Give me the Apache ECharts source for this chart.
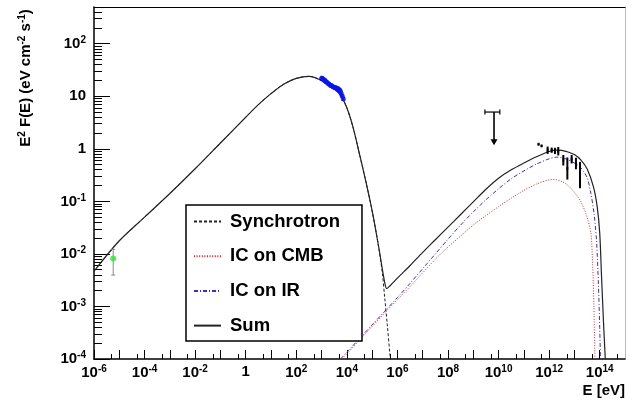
<!DOCTYPE html>
<html>
<head>
<meta charset="utf-8">
<script src="https://cdn.jsdelivr.net/npm/echarts@6/dist/echarts.min.js"></script>
<style>
  html, body { margin: 0; padding: 0; background: #fff; }
  #chart { width: 635px; height: 404px; }
</style>
</head>
<body>
<div id="chart"></div>
<script>
// Spectral energy distribution: E in eV, E^2 F(E) in eV cm^-2 s^-1.
// All curve samples are stored as log10 values.

// Model components
const synLogE = [-6, -5, -4, -3, -2, -1, 0, 0.5, 1, 1.5, 2, 2.5, 3, 3.5, 3.75, 4, 4.25, 4.5, 4.75, 5, 5.25, 5.4, 5.5, 5.6, 5.7, 5.73];
const synLogF = [-2.33, -1.75, -1.30, -0.85, -0.38, 0.11, 0.60, 0.84, 1.05, 1.23, 1.34, 1.38, 1.30, 1.14, 1.02, 0.78, 0.40, -0.10, -0.62, -1.18, -1.85, -2.35, -2.85, -3.35, -3.90, -4.05];

const cmbLogE = [3.8, 4, 4.5, 5, 5.5, 6, 6.5, 7, 7.5, 8, 8.5, 9, 9.5, 10, 10.5, 11, 11.5, 12, 12.2, 12.5, 12.75, 13, 13.25, 13.5, 13.65, 13.72, 13.77, 13.81];
const cmbLogF = [-4.0, -3.9, -3.64, -3.38, -3.12, -2.87, -2.62, -2.36, -2.10, -1.87, -1.66, -1.45, -1.27, -1.10, -0.94, -0.79, -0.67, -0.59, -0.585, -0.62, -0.70, -0.83, -1.0, -1.30, -1.60, -2.2, -3.0, -4.0];

const irLogE = [3.75, 4, 4.5, 5, 5.5, 6, 6.5, 7, 7.5, 8, 8.5, 9, 9.5, 10, 10.5, 11, 11.5, 12, 12.3, 12.6, 13, 13.25, 13.5, 13.65, 13.78, 13.88, 13.95, 14.0, 14.03];
const irLogF = [-4.0, -3.87, -3.61, -3.35, -3.09, -2.83, -2.56, -2.28, -2.0, -1.72, -1.45, -1.20, -0.97, -0.76, -0.57, -0.42, -0.29, -0.19, -0.16, -0.18, -0.27, -0.36, -0.55, -0.85, -1.25, -1.8, -2.6, -3.4, -4.0];

const sumLogE = [-6, -5, -4, -3, -2, -1, 0, 0.5, 1, 1.5, 2, 2.5, 3, 3.5, 3.75, 4, 4.25, 4.5, 4.75, 5, 5.25, 5.4, 5.5, 5.575, 5.7, 6, 6.5, 7, 7.5, 8, 8.5, 9, 9.5, 10, 10.5, 11, 11.5, 12, 12.3, 12.5, 12.75, 13, 13.25, 13.5, 13.75, 13.9, 14, 14.07, 14.15, 14.22];
const sumLogF = [-2.33, -1.75, -1.30, -0.85, -0.38, 0.11, 0.60, 0.84, 1.05, 1.23, 1.34, 1.38, 1.30, 1.14, 1.02, 0.78, 0.40, -0.10, -0.62, -1.18, -1.84, -2.28, -2.55, -2.66, -2.61, -2.46, -2.22, -1.97, -1.73, -1.49, -1.25, -1.01, -0.77, -0.56, -0.40, -0.27, -0.15, -0.05, -0.025, -0.03, -0.06, -0.11, -0.21, -0.38, -0.72, -1.1, -1.6, -2.4, -3.3, -4.0];

// Radio point
const radioLogE = [-5.24];
const radioLogF = [-2.086];
const radioLogLo = [-2.403];
const radioLogHi = [-1.914];

// X-ray spectrum (log10 error half-widths in dex)
const xrayLogE = [3.00, 3.05, 3.10, 3.15, 3.20, 3.25, 3.30, 3.35, 3.40, 3.45, 3.50, 3.55, 3.60, 3.65, 3.70, 3.74, 3.78, 3.82, 3.86];
const xrayLogF = [1.34, 1.33, 1.31, 1.29, 1.27, 1.25, 1.23, 1.21, 1.20, 1.18, 1.17, 1.16, 1.15, 1.14, 1.12, 1.10, 1.05, 1.00, 0.95];
const xrayErr  = [0.05, 0.05, 0.05, 0.05, 0.04, 0.04, 0.04, 0.04, 0.04, 0.04, 0.04, 0.04, 0.05, 0.05, 0.05, 0.05, 0.05, 0.04, 0.04];

// Upper limit at GeV energies
const ulLogE = [9.82];
const ulLogELo = [9.46];
const ulLogEHi = [10.05];
const ulLogF = [0.70];
const ulLogTip = [0.068];

// TeV points (log10 error half-widths in dex)
const tevLogE = [11.58, 11.70, 11.94, 12.10, 12.23, 12.36, 12.56, 12.72, 12.89, 13.06, 13.22];
const tevLogF = [0.087, 0.055, -0.027, -0.027, -0.04, -0.046, -0.217, -0.375, -0.198, -0.28, -0.50];
const tevErr  = [0.02, 0.02, 0.07, 0.05, 0.06, 0.08, 0.10, 0.21, 0.08, 0.11, 0.25];

// Axis label exponents
const xLabelExps = [-6, -4, -2, 0, 2, 4, 6, 8, 10, 12, 14];
const yLabelExps = [-4, -3, -2, -1, 0, 1, 2];

const X_MIN = 1e-6, X_MAX = 1e15, Y_MIN = 1e-4, Y_MAX = 500;
const FONT = '"Liberation Sans", Arial, Helvetica, sans-serif';

const p10 = v => Math.pow(10, v);
const pts = (lx, ly) => lx.map((v, i) => [p10(v), p10(ly[i])]);

// Tick positions
const xMajor = [], xMinor = [], yMajor = [], yMinor = [];
for (let e = -6; e <= 14; e++) { xMajor.push(p10(e)); xMinor.push(5 * p10(e)); }
for (let e = -4; e <= 2; e++) {
  yMajor.push(p10(e));
  for (let k = 2; k <= 9; k++) { const v = k * p10(e); if (v < Y_MAX * 0.999) yMinor.push(v); }
}

const rich = {
  b: { fontFamily: FONT, fontWeight: 'bold', fontSize: 15, color: '#000' },
  s: { fontFamily: FONT, fontWeight: 'bold', fontSize: 10, color: '#000', padding: [0, 0, 7, 0] }
};
function powLabel(v) {
  const e = Math.round(Math.log10(v));
  if (e === 0) return '{b|1}';
  if (e === 1) return '{b|10}';
  return '{b|10}{s|' + e + '}';
}

function baseAxis(extra) {
  return Object.assign({
    type: 'log', logBase: 10,
    splitLine: { show: false }, minorTick: { show: false }, minorSplitLine: { show: false }
  }, extra);
}

const xAxis = [
  baseAxis({ min: X_MIN, max: X_MAX, position: 'bottom',
    axisLine: { show: true, lineStyle: { color: '#000', width: 1.5 } },
    axisTick: { show: true, inside: true, length: 9, customValues: xMajor, lineStyle: { color: '#000', width: 1 } },
    axisLabel: { show: true, customValues: xLabelExps.map(p10), formatter: powLabel, rich: rich, margin: 5 } }),
  baseAxis({ min: X_MIN, max: X_MAX, position: 'bottom',
    axisLine: { show: false },
    axisTick: { show: true, inside: true, length: 5, customValues: xMinor, lineStyle: { color: '#000', width: 1 } },
    axisLabel: { show: false } }),
  baseAxis({ min: X_MIN, max: X_MAX, position: 'top',
    axisLine: { show: true, lineStyle: { color: '#000', width: 1.2 } },
    axisTick: { show: false }, axisLabel: { show: false } })
];
const yAxis = [
  baseAxis({ min: Y_MIN, max: Y_MAX, position: 'left',
    axisLine: { show: true, lineStyle: { color: '#000', width: 1.5 } },
    axisTick: { show: true, inside: true, length: 16, customValues: yMajor, lineStyle: { color: '#000', width: 1 } },
    axisLabel: { show: true, customValues: yLabelExps.map(p10), formatter: powLabel, rich: rich, margin: 8 } }),
  baseAxis({ min: Y_MIN, max: Y_MAX, position: 'left',
    axisLine: { show: false },
    axisTick: { show: true, inside: true, length: 8, customValues: yMinor, lineStyle: { color: '#000', width: 1 } },
    axisLabel: { show: false } }),
  baseAxis({ min: Y_MIN, max: Y_MAX, position: 'right',
    axisLine: { show: true, lineStyle: { color: '#bbb', width: 1 } },
    axisTick: { show: false }, axisLabel: { show: false } })
];

function lineSeries(name, data, color, type, width) {
  return {
    name: name, type: 'line', data: data, xAxisIndex: 0, yAxisIndex: 0,
    showSymbol: false, symbol: 'none', smooth: 0.3, clip: true,
    lineStyle: { color: color, type: type, width: width }, itemStyle: { color: color },
    emphasis: { disabled: true }, silent: true, z: 3
  };
}

// Vertical error bars drawn through the axis scales
function errorSeries(data, color, width, cap) {
  return {
    type: 'custom', xAxisIndex: 0, yAxisIndex: 0, silent: true, clip: true, z: 4,
    data: data, encode: { x: 0, y: [1, 2] },
    renderItem: function (params, api) {
      const x = api.value(0);
      const a = api.coord([x, api.value(1)]);
      const b = api.coord([x, api.value(2)]);
      const kids = [{ type: 'line', shape: { x1: a[0], y1: a[1], x2: b[0], y2: b[1] },
        style: { stroke: color, lineWidth: width } }];
      if (cap) {
        kids.push({ type: 'line', shape: { x1: a[0] - cap, y1: a[1], x2: a[0] + cap, y2: a[1] }, style: { stroke: color, lineWidth: 1 } });
        kids.push({ type: 'line', shape: { x1: b[0] - cap, y1: b[1], x2: b[0] + cap, y2: b[1] }, style: { stroke: color, lineWidth: 1 } });
      }
      return { type: 'group', children: kids };
    }
  };
}

const radioErr = radioLogE.map((v, i) => [p10(v), p10(radioLogLo[i]), p10(radioLogHi[i])]);
const xrayBars = xrayLogE.map((v, i) => [p10(v), p10(xrayLogF[i] - xrayErr[i]), p10(xrayLogF[i] + xrayErr[i])]);
const tevBars = tevLogE.map((v, i) => [p10(v), p10(tevLogF[i] - tevErr[i]), p10(tevLogF[i] + tevErr[i])]);
const ulData = ulLogE.map((v, i) => [p10(v), p10(ulLogF[i]), p10(ulLogTip[i]), p10(ulLogELo[i]), p10(ulLogEHi[i])]);

const series = [
  lineSeries('IC on CMB', pts(cmbLogE, cmbLogF), '#e8202a', [1, 1.6], 1),
  lineSeries('IC on IR', pts(irLogE, irLogF), '#3a2fd0', [4, 2, 1, 2], 1),
  lineSeries('Synchrotron', pts(synLogE, synLogF), '#222', [3, 2], 1),
  lineSeries('Sum', pts(sumLogE, sumLogF), '#222', 'solid', 1.2),
  errorSeries(radioErr, '#8a8a8a', 1, 2),
  {
    type: 'scatter', data: pts(radioLogE, radioLogF), symbol: 'circle', symbolSize: 6,
    itemStyle: { color: '#2ee82e' }, silent: true, z: 5, xAxisIndex: 0, yAxisIndex: 0
  },
  errorSeries(xrayBars, '#0a14f0', 2.5, 0),
  {
    type: 'scatter', data: pts(xrayLogE, xrayLogF), symbol: 'circle', symbolSize: 5,
    itemStyle: { color: '#0a14f0' }, silent: true, z: 5, xAxisIndex: 0, yAxisIndex: 0
  },
  errorSeries(tevBars, '#000', 2, 0),
  {
    type: 'scatter', data: pts(tevLogE, tevLogF), symbol: 'rect', symbolSize: [2, 3],
    itemStyle: { color: '#000' }, silent: true, z: 5, xAxisIndex: 0, yAxisIndex: 0
  },
  {
    // Upper limit: energy bin bar plus downward arrow
    type: 'custom', xAxisIndex: 0, yAxisIndex: 0, silent: true, z: 5,
    data: ulData, encode: { x: [0, 3, 4], y: [1, 2] },
    renderItem: function (params, api) {
      const e = api.value(0), f = api.value(1), tip = api.value(2);
      const top = api.coord([e, f]);
      const end = api.coord([e, tip]);
      const l = api.coord([api.value(3), f]);
      const r = api.coord([api.value(4), f]);
      const st = { stroke: '#000', lineWidth: 1.2 };
      return { type: 'group', children: [
        { type: 'line', shape: { x1: l[0], y1: l[1], x2: r[0], y2: r[1] }, style: st },
        { type: 'line', shape: { x1: l[0], y1: l[1] - 2.5, x2: l[0], y2: l[1] + 2.5 }, style: st },
        { type: 'line', shape: { x1: r[0], y1: r[1] - 2.5, x2: r[0], y2: r[1] + 2.5 }, style: st },
        { type: 'line', shape: { x1: top[0], y1: top[1], x2: end[0], y2: end[1] - 4 }, style: { stroke: '#000', lineWidth: 1.6 } },
        { type: 'polygon', shape: { points: [[end[0] - 3.5, end[1] - 6], [end[0] + 3.5, end[1] - 6], [end[0], end[1]]] }, style: { fill: '#000' } }
      ] };
    }
  }
];

const chart = echarts.init(document.getElementById('chart'), null, { renderer: 'canvas' });
chart.setOption({
  animation: false,
  backgroundColor: '#fff',
  grid: { left: 94, top: 7, right: 10, bottom: 45, containLabel: false },
  xAxis: xAxis,
  yAxis: yAxis,
  legend: {
    data: ['Synchrotron', 'IC on CMB', 'IC on IR', 'Sum'],
    orient: 'vertical', left: 186, top: 205,
    padding: [7, 22, 6, 7], itemGap: 15.7, itemWidth: 27, itemHeight: 18,
    backgroundColor: '#fff', borderColor: '#000', borderWidth: 1.5, borderRadius: 0,
    selectedMode: false, inactiveColor: '#000',
    itemStyle: { opacity: 0 },
    textStyle: { fontFamily: FONT, fontWeight: 'bold', fontSize: 18.5, lineHeight: 18, color: '#000', padding: [0, 0, 0, 4] }
  },
  graphic: [
    {
      type: 'text', x: 26, y: 78, rotation: Math.PI / 2, silent: true,
      style: {
        text: '{b|E}{s|2}{b| F(E) (eV cm}{s|-2}{b| s}{s|-1}{b|)}',
        rich: {
          b: { fontFamily: FONT, fontWeight: 'bold', fontSize: 15, fill: '#000' },
          s: { fontFamily: FONT, fontWeight: 'bold', fontSize: 10, fill: '#000', padding: [0, 0, 7, 0] }
        },
        align: 'center', verticalAlign: 'middle'
      }
    },
    {
      type: 'text', x: 625, y: 391, silent: true,
      style: { text: 'E [eV]', font: 'bold 15px ' + FONT, fill: '#000', align: 'right', verticalAlign: 'middle' }
    }
  ],
  series: series
});
</script>
</body>
</html>
